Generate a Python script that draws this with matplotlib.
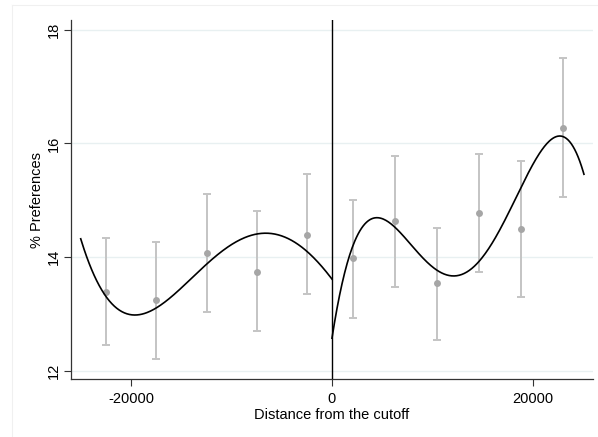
import numpy as np
import matplotlib.pyplot as plt
from matplotlib.lines import Line2D

plt.rcParams['font.family'] = ['Liberation Sans', 'DejaVu Sans']
plt.rcParams['axes.unicode_minus'] = False

# binned means with confidence intervals
bin_x_left = [-22560, -17550, -12490, -7510, -2520]
mean_left = [13.39, 13.24, 14.08, 13.74, 14.40]
hi_left = [14.33, 14.26, 15.12, 14.81, 15.46]
lo_left = [12.45, 12.22, 13.04, 12.70, 13.35]

bin_x_right = [2120, 6310, 10470, 14660, 18840, 23030]
mean_right = [13.98, 14.63, 13.54, 14.77, 14.50, 16.28]
hi_right = [15.01, 15.78, 14.52, 15.82, 15.70, 17.50]
lo_right = [12.94, 13.48, 12.55, 13.74, 13.31, 15.06]

# points
fit_x_left = [-25050, -24130, -22800, -21470, -19810, -17480, -15150, -13160,
              -10170, -6510, -3860, -1860, 0]
fit_y_left = [14.30, 13.84, 13.45, 13.13, 12.95, 13.08, 13.43, 13.77,
              14.25, 14.42, 14.28, 13.96, 13.64]
fit_x_right = [0, 470, 1130, 2120, 3120, 4460, 6110, 7780, 9440, 11100, 12430,
               13090, 14430, 16080, 17750, 19410, 21070, 22730, 24060, 25120]
fit_y_right = [12.56, 13.08, 13.67, 14.19, 14.54, 14.69, 14.57, 14.25, 13.93,
               13.70, 13.65, 13.70, 13.89, 14.31, 14.84, 15.42, 15.89, 16.15,
               15.95, 15.45]

fig = plt.figure(figsize=(5.98, 4.37), dpi=100)
ax = fig.add_axes([0.1187, 0.1327, 0.8729, 0.8215])

# faint outer frame of the plot region
fig.add_artist(Line2D([12/598, 12/598], [0, 1 - 5/437], transform=fig.transFigure,
                      color='#f0f0f0', lw=0.8))
fig.add_artist(Line2D([12/598, 1], [1 - 5/437, 1 - 5/437], transform=fig.transFigure,
                      color='#f0f0f0', lw=0.8))

# grid
for yv in [12, 14, 16, 18]:
    ax.axhline(yv, color='#e8f0f1', lw=1.0, zorder=0)

# error bars + means
for xs, m, hi, lo in [(bin_x_left, mean_left, hi_left, lo_left),
                      (bin_x_right, mean_right, hi_right, lo_right)]:
    m = np.array(m)
    yerr = [m - np.array(lo), np.array(hi) - m]
    ax.errorbar(xs, m, yerr=yerr, fmt='none', ecolor='#c4c4c4', elinewidth=1.4,
                capsize=3, capthick=1.4, zorder=2)
    ax.plot(xs, m, 'o', color='#a6a6a6', ms=5, mec='none', zorder=3)

# polynomial fits
for fx, fy, deg in [(fit_x_left, fit_y_left, 4), (fit_x_right, fit_y_right, 6)]:
    fx = np.array(fx) / 10000.0
    c = np.polyfit(fx, fy, deg)
    xx = np.linspace(fx.min(), fx.max(), 300)
    ax.plot(xx * 10000, np.polyval(c, xx), color='black', lw=1.2, zorder=4)

ax.axvline(0, color='black', lw=1.0, zorder=5)

ax.set_xlim(-26020, 26020)
ax.set_ylim(11.86, 18.17)
ax.set_xticks([-20000, 0, 20000])
ax.set_yticks([12, 14, 16, 18])
ax.set_yticklabels(['12', '14', '16', '18'], rotation=90, va='center')
ax.tick_params(labelsize=10.5, length=5, width=0.8, color='#333333')
ax.tick_params(axis='x', pad=4)
ax.tick_params(axis='y', pad=2)
ax.spines['top'].set_visible(False)
ax.spines['right'].set_visible(False)
for s in ['left', 'bottom']:
    ax.spines[s].set_linewidth(0.9)
    ax.spines[s].set_color('#333333')

ax.set_xlabel('Distance from the cutoff', fontsize=10.5, labelpad=2)
ax.set_ylabel('% Preferences', fontsize=10.5, labelpad=2)

fig.savefig('out.png', dpi=100)
